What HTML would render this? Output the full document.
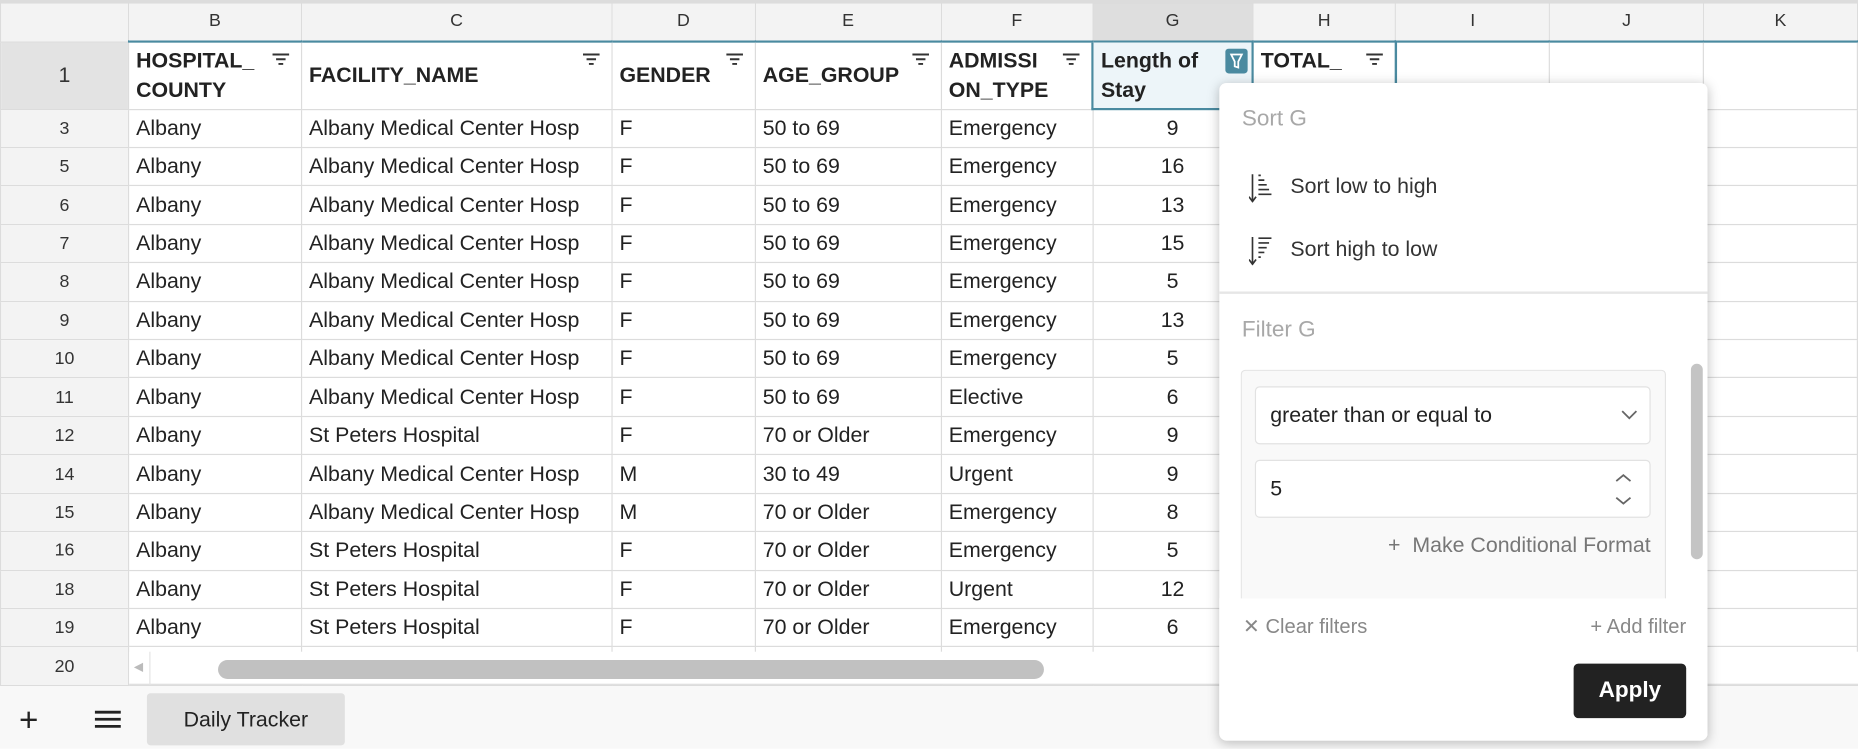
<!DOCTYPE html>
<html><head><meta charset="utf-8"><style>
*{box-sizing:border-box;margin:0;padding:0}
html,body{width:1858px;height:749px;overflow:hidden;background:#fff}
#w{position:absolute;left:0;top:0;width:1568px;height:632px;transform:scale(1.18495);transform-origin:0 0;font-family:"Liberation Sans",Arial,sans-serif;color:#222;overflow:hidden}
table{position:absolute;left:0;top:0;border-collapse:collapse;table-layout:fixed}
td{border:1px solid #dcdcdc;font-size:18px;padding:0 6px;white-space:nowrap;overflow:hidden;height:32.43px;position:relative}
tr.ch td{height:35px;background:#f3f3f3;text-align:center;font-size:15px;color:#333;border-top:none}
td.rh{background:#f3f3f3;text-align:center;font-size:15px;color:#333}
tr.h1 td{height:57px;font-weight:bold;font-size:18px;line-height:25px;vertical-align:middle;white-space:normal;border-top:2px solid #4a8aa0}
.f{position:absolute;right:9px;top:8px}
td.c{text-align:center}
.pop{position:absolute;left:1029px;top:70px;width:412px;height:555px;background:#fff;border-radius:6px;box-shadow:0 2px 10px rgba(0,0,0,.25);font-family:"Liberation Sans",Arial,sans-serif}
.gr{color:#a8a8a8;font-size:19px;position:absolute;left:19px}
.it{position:absolute;left:60px;font-size:18px;color:#333}
</style></head><body><div id="w">
<table>
<colgroup><col style="width:108px"><col style="width:146px"><col style="width:262px"><col style="width:121px"><col style="width:157px"><col style="width:128px"><col style="width:135px"><col style="width:121px"><col style="width:130px"><col style="width:130px"><col style="width:130px"></colgroup>
<tr class="ch"><td></td><td>B</td><td>C</td><td>D</td><td>E</td><td>F</td><td style="background:#dedede">G</td><td>H</td><td>I</td><td>J</td><td>K</td></tr>
<tr class="h1"><td class="rh" style="background:#e3e3e3;font-weight:normal;border-top:1px solid #dcdcdc">1</td>
<td>HOSPITAL_<br>COUNTY<svg class="f" width="16" height="14"><path d="M1 2h14M4 6h8M6 10h4" stroke="#333" stroke-width="1.6"/></svg></td>
<td>FACILITY_NAME<svg class="f" width="16" height="14"><path d="M1 2h14M4 6h8M6 10h4" stroke="#333" stroke-width="1.6"/></svg></td>
<td>GENDER<svg class="f" width="16" height="14"><path d="M1 2h14M4 6h8M6 10h4" stroke="#333" stroke-width="1.6"/></svg></td>
<td>AGE_GROUP<svg class="f" width="16" height="14"><path d="M1 2h14M4 6h8M6 10h4" stroke="#333" stroke-width="1.6"/></svg></td>
<td>ADMISSI<br>ON_TYPE<svg class="f" width="16" height="14"><path d="M1 2h14M4 6h8M6 10h4" stroke="#333" stroke-width="1.6"/></svg></td>
<td style="background:#edf5f9;border:2px solid #4a8aa0">Length of<br>Stay<svg style="position:absolute;right:3px;top:5px" width="19" height="21"><rect width="19" height="21" rx="3" fill="#4a8aa0"/><path d="M5 5h9l-3 6v5l-3-1v-4z" fill="none" stroke="#fff" stroke-width="1.5"/></svg></td>
<td style="border:2px solid #4a8aa0;vertical-align:top;padding-top:3px">TOTAL_<svg class="f" width="16" height="14"><path d="M1 2h14M4 6h8M6 10h4" stroke="#333" stroke-width="1.6"/></svg></td>
<td></td><td></td><td></td></tr>
<tr><td class="rh">3</td><td>Albany</td><td>Albany Medical Center Hosp</td><td>F</td><td>50 to 69</td><td>Emergency</td><td class="c">9</td><td></td><td></td><td></td><td></td></tr>
<tr><td class="rh">5</td><td>Albany</td><td>Albany Medical Center Hosp</td><td>F</td><td>50 to 69</td><td>Emergency</td><td class="c">16</td><td></td><td></td><td></td><td></td></tr>
<tr><td class="rh">6</td><td>Albany</td><td>Albany Medical Center Hosp</td><td>F</td><td>50 to 69</td><td>Emergency</td><td class="c">13</td><td></td><td></td><td></td><td></td></tr>
<tr><td class="rh">7</td><td>Albany</td><td>Albany Medical Center Hosp</td><td>F</td><td>50 to 69</td><td>Emergency</td><td class="c">15</td><td></td><td></td><td></td><td></td></tr>
<tr><td class="rh">8</td><td>Albany</td><td>Albany Medical Center Hosp</td><td>F</td><td>50 to 69</td><td>Emergency</td><td class="c">5</td><td></td><td></td><td></td><td></td></tr>
<tr><td class="rh">9</td><td>Albany</td><td>Albany Medical Center Hosp</td><td>F</td><td>50 to 69</td><td>Emergency</td><td class="c">13</td><td></td><td></td><td></td><td></td></tr>
<tr><td class="rh">10</td><td>Albany</td><td>Albany Medical Center Hosp</td><td>F</td><td>50 to 69</td><td>Emergency</td><td class="c">5</td><td></td><td></td><td></td><td></td></tr>
<tr><td class="rh">11</td><td>Albany</td><td>Albany Medical Center Hosp</td><td>F</td><td>50 to 69</td><td>Elective</td><td class="c">6</td><td></td><td></td><td></td><td></td></tr>
<tr><td class="rh">12</td><td>Albany</td><td>St Peters Hospital</td><td>F</td><td>70 or Older</td><td>Emergency</td><td class="c">9</td><td></td><td></td><td></td><td></td></tr>
<tr><td class="rh">14</td><td>Albany</td><td>Albany Medical Center Hosp</td><td>M</td><td>30 to 49</td><td>Urgent</td><td class="c">9</td><td></td><td></td><td></td><td></td></tr>
<tr><td class="rh">15</td><td>Albany</td><td>Albany Medical Center Hosp</td><td>M</td><td>70 or Older</td><td>Emergency</td><td class="c">8</td><td></td><td></td><td></td><td></td></tr>
<tr><td class="rh">16</td><td>Albany</td><td>St Peters Hospital</td><td>F</td><td>70 or Older</td><td>Emergency</td><td class="c">5</td><td></td><td></td><td></td><td></td></tr>
<tr><td class="rh">18</td><td>Albany</td><td>St Peters Hospital</td><td>F</td><td>70 or Older</td><td>Urgent</td><td class="c">12</td><td></td><td></td><td></td><td></td></tr>
<tr><td class="rh">19</td><td>Albany</td><td>St Peters Hospital</td><td>F</td><td>70 or Older</td><td>Emergency</td><td class="c">6</td><td></td><td></td><td></td><td></td></tr>
<tr><td class="rh">20</td><td>Albany</td><td>Albany Medical Center Hosp</td><td>F</td><td>50 to 69</td><td>Emergency</td><td class="c">11</td><td></td><td></td><td></td><td></td></tr>
</table>
<div style="position:absolute;left:0;top:0;width:1568px;height:3px;background:#dcdcdc"></div>
<div style="position:absolute;left:109px;top:550px;width:1459px;height:28px;background:#fff;border-bottom:1px solid #dcdcdc"></div>
<div style="position:absolute;left:109px;top:550px;width:18px;height:28px;border-right:1px solid #e4e4e4;color:#bbb;font-size:10px;line-height:28px;padding-left:4px">◀</div>
<div style="position:absolute;left:184px;top:557px;width:697px;height:16px;background:#c1c1c1;border-radius:8px"></div>
<div style="position:absolute;left:0;top:579px;width:1568px;height:53px;background:#f8f8f8"></div>
<div style="position:absolute;left:16px;top:594px;font-size:28px;line-height:28px;color:#222">+</div>
<svg style="position:absolute;left:80px;top:599px" width="22" height="16"><path d="M0 2h22M0 8h22M0 14h22" stroke="#222" stroke-width="2.4"/></svg>
<div style="position:absolute;left:124px;top:585px;width:167px;height:44px;background:#e0e0e0;border-radius:3px;font-size:18px;line-height:44px;text-align:center;color:#222">Daily Tracker</div>
<div class="pop">
<div class="gr" style="top:20px">Sort G</div>
<svg style="position:absolute;left:25px;top:75px" width="22" height="26"><path d="M3 2v22M0 21l3 4 3-4M8 3h2M8 7h5M8 11h7M8 15h9M8 19h11" stroke="#333" stroke-width="1.4" fill="none"/></svg>
<div class="it" style="top:77px">Sort low to high</div>
<svg style="position:absolute;left:25px;top:128px" width="22" height="26"><path d="M3 2v22M0 21l3 4 3-4M8 3h11M8 7h9M8 11h7M8 15h5M8 19h2" stroke="#333" stroke-width="1.4" fill="none"/></svg>
<div class="it" style="top:130px">Sort high to low</div>
<div style="position:absolute;left:0;top:176px;width:412px;height:2px;background:#e6e6e6"></div>
<div class="gr" style="top:198px">Filter G</div>
<div style="position:absolute;left:18px;top:242px;width:359px;height:200px;background:#f9f9f9;border:1px solid #e4e4e4;border-bottom:none;border-radius:4px 4px 0 0"></div>
<div style="position:absolute;left:30px;top:256px;width:334px;height:49px;background:#fff;border:1px solid #e2e2e2;border-radius:4px;font-size:18px;line-height:47px;padding-left:12px;color:#222">greater than or equal to<svg style="position:absolute;right:10px;top:19px" width="14" height="9"><path d="M1 1l6 6 6-6" stroke="#666" stroke-width="1.5" fill="none"/></svg></div>
<div style="position:absolute;left:30px;top:318px;width:334px;height:49px;background:#fff;border:1px solid #e2e2e2;border-radius:4px;font-size:18px;line-height:47px;padding-left:12px;color:#222">5<svg style="position:absolute;right:14px;top:9px" width="16" height="30"><path d="M2 8l6-5 6 5M2 22l6 5 6-5" stroke="#666" stroke-width="1.5" fill="none"/></svg></div>
<div style="position:absolute;right:48px;top:380px;font-size:18px;color:#777">+&nbsp; Make Conditional Format</div>
<div style="position:absolute;left:398px;top:237px;width:10px;height:165px;background:#c4c4c4;border-radius:5px"></div>
<div style="position:absolute;left:0;top:435px;width:412px;height:120px;background:#fff;border-radius:0 0 6px 6px"></div>
<div style="position:absolute;left:20px;top:449px;font-size:17px;color:#888">✕ Clear filters</div>
<div style="position:absolute;right:18px;top:449px;font-size:17px;color:#888">+ Add filter</div>
<div style="position:absolute;left:299px;top:490px;width:95px;height:46px;background:#222;border-radius:4px;color:#fff;font-weight:bold;font-size:19px;line-height:46px;text-align:center">Apply</div>
</div>
</div></body></html>
